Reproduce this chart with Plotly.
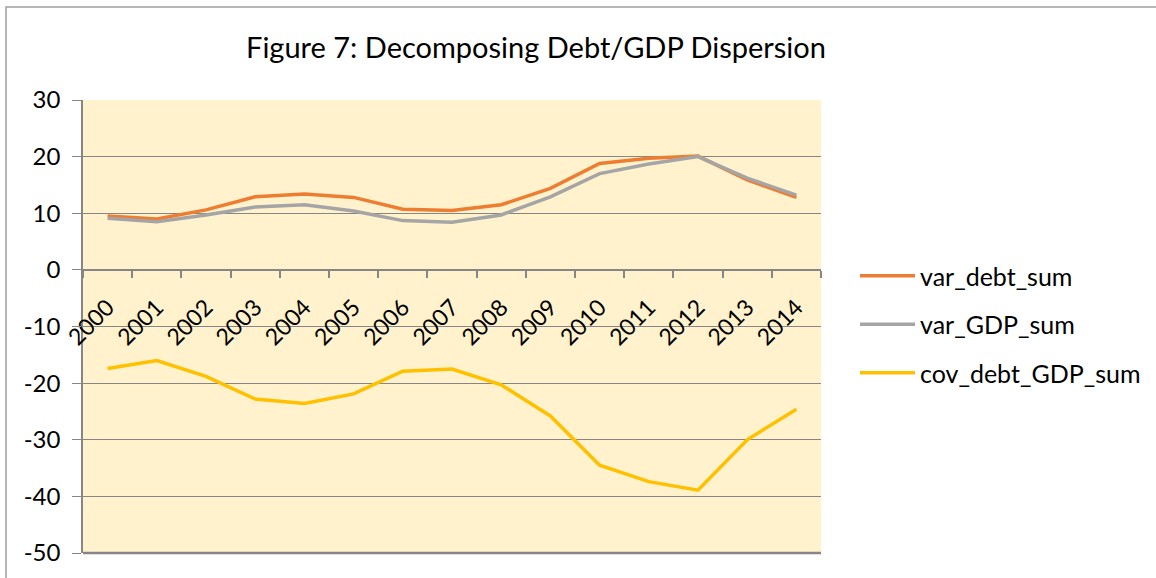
import plotly.graph_objects as go

years = [str(y) for y in range(2000, 2015)]
var_debt_sum = [9.5, 9.0, 10.6, 12.9, 13.4, 12.8, 10.7, 10.5, 11.5, 14.4, 18.8, 19.7, 20.1, 15.9, 12.8]
var_GDP_sum = [9.1, 8.5, 9.7, 11.1, 11.5, 10.4, 8.7, 8.4, 9.7, 12.9, 17.0, 18.7, 20.0, 16.2, 13.2]
cov_debt_GDP_sum = [-17.4, -16.0, -18.8, -22.8, -23.6, -21.9, -17.9, -17.5, -20.3, -25.8, -34.5, -37.4, -38.9, -30.0, -24.6]

series_names = ["var_debt_sum", "var_GDP_sum", "cov_debt_GDP_sum"]
series_values = [var_debt_sum, var_GDP_sum, cov_debt_GDP_sum]
series_colors = ["#ED7D31", "#A5A5A5", "#FFC000"]

y_tick_values = [-50, -40, -30, -20, -10, 0, 10, 20, 30]
y_tick_labels = ["-50", "-40", "-30", "-20", "-10", "0", "10", "20", "30"]

FONT = "Lato"

fig = go.Figure()
for name, vals, col in zip(series_names, series_values, series_colors):
    fig.add_trace(go.Scatter(
        x=years, y=vals, mode="lines", name=name, legendgroup=name,
        line=dict(color=col, width=3.5),
    ))

W, H = 1156, 578
L, R, T, B = 83, 821, 100, 553
pw, ph = R - L, B - T

def px_x(p):
    return (p - L) / pw

def px_y(p):
    return (B - p) / ph

fig.update_layout(
    width=W, height=H,
    margin=dict(l=L, r=W - R, t=T, b=H - B, autoexpand=False),
    paper_bgcolor="white",
    plot_bgcolor="#FFF2CC",
    font=dict(family=FONT, color="black", size=20),
    title=dict(
        text="Figure 7: Decomposing Debt/GDP Dispersion",
        x=536 / W, xref="container", xanchor="center",
        y=1 - 48 / H, yref="container", yanchor="middle",
        font=dict(family=FONT, size=29, color="black"),
    ),
    showlegend=True,
    legend=dict(
        x=px_x(855), y=px_y(253), xref="paper", yref="paper",
        xanchor="left", yanchor="top",
        font=dict(family=FONT, size=25, color="black"),
        bgcolor="rgba(0,0,0,0)",
        tracegroupgap=13,
        itemwidth=55,
    ),
    xaxis=dict(
        type="category",
        anchor="free", position=50 / 80,
        showline=True, linecolor="#868686", linewidth=2,
        ticks="outside", tickson="boundaries", ticklen=7, tickcolor="#868686", tickwidth=1.5,
        tickangle=-45, ticklabelstandoff=14,
        tickfont=dict(family=FONT, size=23, color="black"),
        showgrid=False, zeroline=False,
        range=[-0.5, 14.5], automargin=False,
    ),
    yaxis=dict(
        range=[-50, 30], tickvals=y_tick_values, ticktext=y_tick_labels,
        showline=True, linecolor="#868686", linewidth=1.5,
        ticks="outside", ticklen=9, tickcolor="#868686",
        showgrid=True, gridcolor="#868686", gridwidth=1,
        zeroline=False, automargin=False, ticklabelstandoff=7,
        tickfont=dict(family=FONT, size=24, color="black"),
    ),
)

# bottom axis line at -50
fig.add_shape(type="line", xref="paper", yref="paper", x0=0, x1=1, y0=0, y1=0,
              line=dict(color="#868686", width=2.5))
# outer chart border
fig.add_shape(type="rect", xref="paper", yref="paper",
              x0=px_x(6), x1=px_x(1165), y0=px_y(585), y1=px_y(7),
              line=dict(color="#A0A0A0", width=1.5), fillcolor="rgba(0,0,0,0)", layer="below")

fig.write_html(
    "out.html",
    config={"displayModeBar": False},
    post_script="document.body.style.margin='0';document.body.style.overflow='hidden';",
)
